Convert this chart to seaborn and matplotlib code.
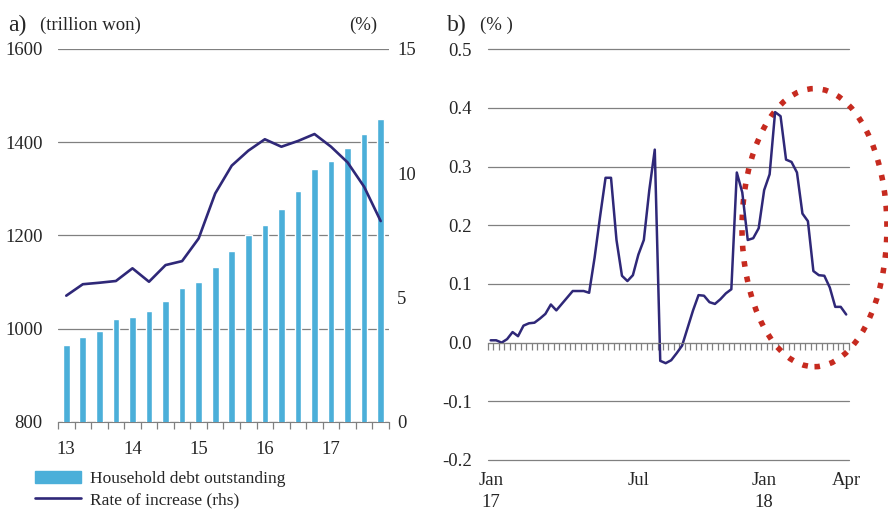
import numpy as np
import pandas as pd
import seaborn as sns
import matplotlib
matplotlib.use('Agg')
import matplotlib.pyplot as plt
from matplotlib.patches import Ellipse, Patch
from matplotlib.lines import Line2D

sns.set_style('white')
plt.rcParams['font.family'] = ['Liberation Serif', 'DejaVu Serif']

# a) household debt, quarterly 2013Q1 - 2017Q4
quarters = ['13Q1', '13Q2', '13Q3', '13Q4', '14Q1', '14Q2', '14Q3', '14Q4',
            '15Q1', '15Q2', '15Q3', '15Q4', '16Q1', '16Q2', '16Q3', '16Q4',
            '17Q1', '17Q2', '17Q3', '17Q4']
debt = [965, 982, 996, 1021, 1025, 1039, 1060, 1087, 1100, 1133,
        1167, 1202, 1223, 1257, 1296, 1342, 1359, 1387, 1418, 1450]
rate = [5.08, 5.54, 5.60, 5.67, 6.18, 5.64, 6.31, 6.47, 7.38, 9.19,
        10.31, 10.91, 11.37, 11.07, 11.30, 11.58, 11.07, 10.44, 9.46, 8.08]
year_pos = [0, 4, 8, 12, 16]
year_labels = ['13', '14', '15', '16', '17']

# b) weekly change, Jan 2017 - Apr 2018 (%)
weekly = [0.004, 0.004, 0.000, 0.006, 0.018, 0.011, 0.029, 0.033, 0.034, 0.041,
          0.049, 0.065, 0.055, 0.066, 0.077, 0.088, 0.088, 0.088, 0.085, 0.145,
          0.215, 0.281, 0.281, 0.175, 0.114, 0.105, 0.115, 0.150, 0.175, 0.260,
          0.329, -0.031, -0.035, -0.030, -0.018, -0.005, 0.025, 0.055, 0.081, 0.080,
          0.069, 0.066, 0.074, 0.084, 0.091, 0.290, 0.256, 0.175, 0.178, 0.195,
          0.260, 0.287, 0.393, 0.386, 0.312, 0.308, 0.290, 0.220, 0.207, 0.122,
          0.115, 0.114, 0.094, 0.061, 0.061, 0.048]
week_pos = [0, 27, 50, 65]
week_labels = ['Jan\n17', 'Jul', 'Jan\n18', 'Apr']

bar_color = '#4BAFD9'
navy = '#2F2878'
grid_c = '#808080'
fs = 13.5

fig = plt.figure(figsize=(8.88, 5.12), dpi=100)

# ---- panel a ----
ax1 = fig.add_axes([0.0653, 0.1758, 0.3727, 0.7285])
ax1.set_axisbelow(True)
dfa = pd.DataFrame({'quarter': quarters, 'debt': debt, 'rate': rate})
sns.barplot(data=dfa, x='quarter', y='debt', color=bar_color, saturation=1,
            width=0.40, ax=ax1)
for p in ax1.patches:
    p.set_zorder(3)
ax1.set_ylim(800, 1600)
ax1.set_xlim(-0.5, len(quarters) - 0.5)
ax1.set_yticks([800, 1000, 1200, 1400, 1600])
ax1.yaxis.grid(True, color=grid_c, lw=0.9, zorder=0)
ax1.set_xticks(year_pos)
ax1.set_xticklabels(year_labels)
ax1.set_xticks(np.arange(-0.5, len(quarters), 1), minor=True)
ax1.tick_params(axis='x', which='both', bottom=True)
ax1.tick_params(axis='x', which='major', length=0, pad=14, labelsize=fs)
ax1.tick_params(axis='x', which='minor', length=5, color=grid_c, width=0.9)
ax1.tick_params(axis='y', length=0, pad=11, labelsize=fs)
for s in ['top', 'left', 'right']:
    ax1.spines[s].set_visible(False)
ax1.spines['bottom'].set_color(grid_c)
ax1.set_xlabel('')
ax1.set_ylabel('')

ax2 = ax1.twinx()
sns.lineplot(x=np.arange(len(rate)), y=rate, color=navy, lw=1.9, ax=ax2)
ax2.set_ylim(0, 15)
ax2.set_yticks([0, 5, 10, 15])
ax2.tick_params(axis='y', length=0, pad=6, labelsize=fs)
for s in ax2.spines.values():
    s.set_visible(False)
ax2.set_ylabel('')

fig.text(8 / 888, 1 - 25 / 512, 'a)', fontsize=17, va='center')
fig.text(40 / 888, 1 - 25 / 512, '(trillion won)', fontsize=fs, va='center')
fig.text(349 / 888, 1 - 25 / 512, '(%)', fontsize=fs, va='center')

leg = fig.legend(handles=[Patch(color=bar_color, label='Household debt outstanding'),
                          Line2D([], [], color=navy, lw=1.9, label='Rate of increase (rhs)')],
                 loc='upper left', bbox_to_anchor=(35 / 888, 1 - 471 / 512),
                 frameon=False, fontsize=12.5, handlelength=2.65, handletextpad=0.5,
                 labelspacing=0.3, borderpad=0, borderaxespad=0)

# ---- panel b ----
ax3 = fig.add_axes([0.5495, 0.1016, 0.4065, 0.8021])
sns.lineplot(x=np.arange(len(weekly)), y=weekly, color=navy, lw=1.8, ax=ax3)
ax3.set_xlim(-0.5, len(weekly) - 0.5)
ax3.set_ylim(-0.2, 0.5)
ax3.set_yticks([-0.2, -0.1, 0.0, 0.1, 0.2, 0.3, 0.4, 0.5])
ax3.set_yticklabels(['-0.2', '-0.1', '0.0', '0.1', '0.2', '0.3', '0.4', '0.5'])
ax3.yaxis.grid(True, color=grid_c, lw=0.9)
for s in ['top', 'left', 'right']:
    ax3.spines[s].set_visible(False)
ax3.spines['bottom'].set_position(('data', 0))
ax3.spines['bottom'].set_color(grid_c)
ax3.set_xticks(week_pos)
ax3.set_xticklabels(week_labels, linespacing=1.4)
ax3.set_xticks(np.arange(-0.5, len(weekly), 1), minor=True)
ax3.tick_params(axis='x', which='both', bottom=True)
ax3.tick_params(axis='x', which='major', length=0, pad=93, labelsize=fs)
ax3.tick_params(axis='x', which='minor', length=5, color=grid_c, width=0.9)
ax3.tick_params(axis='y', length=0, pad=11.5, labelsize=fs)
ax3.set_xlabel('')
ax3.set_ylabel('')
for gl in ax3.get_ygridlines():
    gl.set_clip_on(False)

ax3.add_patch(Ellipse((59.2, 0.196), 26.5, 0.474, fill=False, ec='#C62A1F',
                      lw=4.0, ls=(0, (1, 1.8)), clip_on=False))

fig.text(447 / 888, 1 - 25 / 512, 'b)', fontsize=17, va='center')
fig.text(480 / 888, 1 - 25 / 512, '(% )', fontsize=fs, va='center')

fig.savefig('out.png', dpi=100)
